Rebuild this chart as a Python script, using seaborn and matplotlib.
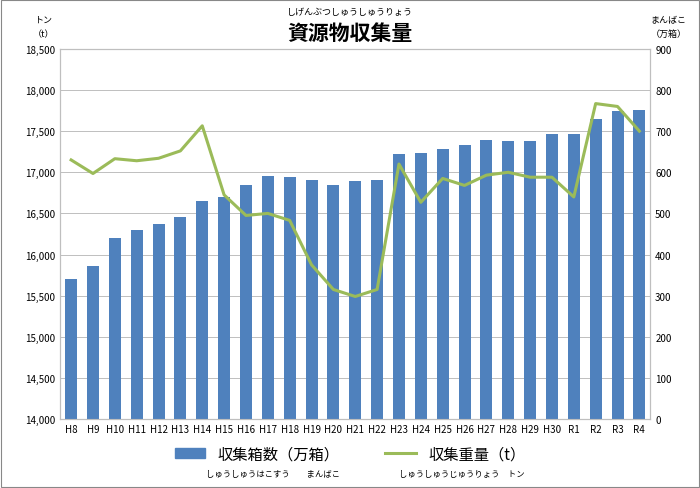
import matplotlib
matplotlib.use("Agg")
import matplotlib.pyplot as plt
import seaborn as sns
import pandas as pd
from matplotlib.patches import Rectangle
from matplotlib.lines import Line2D

plt.rcParams["font.family"] = ["Noto Sans CJK JP", "DejaVu Sans"]

# data
years = ["H8", "H9", "H10", "H11", "H12", "H13", "H14", "H15", "H16", "H17", "H18",
         "H19", "H20", "H21", "H22", "H23", "H24", "H25", "H26", "H27", "H28", "H29",
         "H30", "R1", "R2", "R3", "R4"]
boxes = [340, 372, 440, 460, 474, 492, 530, 540, 570, 590, 588, 580, 568, 578, 582,
         644, 648, 656, 666, 678, 676, 676, 692, 692, 730, 750, 752]  # 万箱
weight = [17150, 16985, 17165, 17140, 17170, 17260, 17565, 16725, 16475, 16500, 16415,
          15875, 15575, 15490, 15575, 17100, 16635, 16925, 16840, 16965, 17000, 16940,
          16940, 16700, 17835, 17800, 17500]  # t

df = pd.DataFrame({"year": years, "boxes": boxes, "weight": weight})

fig = plt.figure(figsize=(7, 4.89), dpi=100)
ax = fig.add_axes([0.086, 0.141, 0.843, 0.757])
ax2 = ax.twinx()

sns.barplot(data=df, x="year", y="boxes", color="#4f81bd", width=0.55,
            saturation=1, ax=ax2, zorder=2)
ax.set_ylim(14000, 18500)
ax.set_yticks(range(14000, 18501, 500))
ax.set_yticklabels([f"{v:,}" for v in range(14000, 18501, 500)], fontsize=7)
ax2.set_ylim(0, 900)
ax2.set_yticks(range(0, 901, 100))
ax2.tick_params(axis="y", labelsize=7)
ax.grid(axis="y", color="#bfbfbf", lw=0.7)
ax.set_axisbelow(True)

# line drawn on ax2 in transformed units so it sits above bars
ax2.plot(range(len(years)), [(w - 14000) / 5 for w in weight], color="#9bbb59", lw=2.2, zorder=3)

ax.set_xlim(-0.5, len(years) - 0.5)
ax2.set_xlim(-0.5, len(years) - 0.5)
ax.set_xticks(range(len(years)))
ax.set_xticklabels(years, fontsize=7)
ax2.set_xlabel("")
ax2.set_ylabel("")
ax.tick_params(length=0)
ax2.tick_params(length=0)
for a in (ax, ax2):
    for s in a.spines.values():
        s.set_color("#bfbfbf")

fig.text(0.5, 0.97, "しげんぶつしゅうしゅうりょう", ha="center", fontsize=6.5)
fig.text(0.5, 0.932, "資源物収集量", ha="center", va="center", fontsize=15, fontweight="bold")
fig.text(0.062, 0.953, "トン", ha="center", fontsize=6.5)
fig.text(0.062, 0.925, "（t）", ha="center", fontsize=6.5)
fig.text(0.955, 0.953, "まんばこ", ha="center", fontsize=6.5)
fig.text(0.955, 0.925, "（万箱）", ha="center", fontsize=6.5)

handles = [Rectangle((0, 0), 1, 1, color="#4f81bd"), Line2D([], [], color="#9bbb59", lw=2.2)]
fig.legend(handles, ["収集箱数（万箱）", "収集重量（t）"], loc="center", ncol=2,
           bbox_to_anchor=(0.5, 0.07), frameon=False, fontsize=11, columnspacing=3)
fig.text(0.39, 0.025, "しゅうしゅうはこすう　　まんばこ", ha="center", fontsize=6)
fig.text(0.66, 0.025, "しゅうしゅうじゅうりょう　トン", ha="center", fontsize=6)

fig.patches.append(Rectangle((0.002, 0.003), 0.996, 0.994, transform=fig.transFigure,
                             fill=False, ec="#888888", lw=0.8))
fig.savefig("out.png", dpi=100)
